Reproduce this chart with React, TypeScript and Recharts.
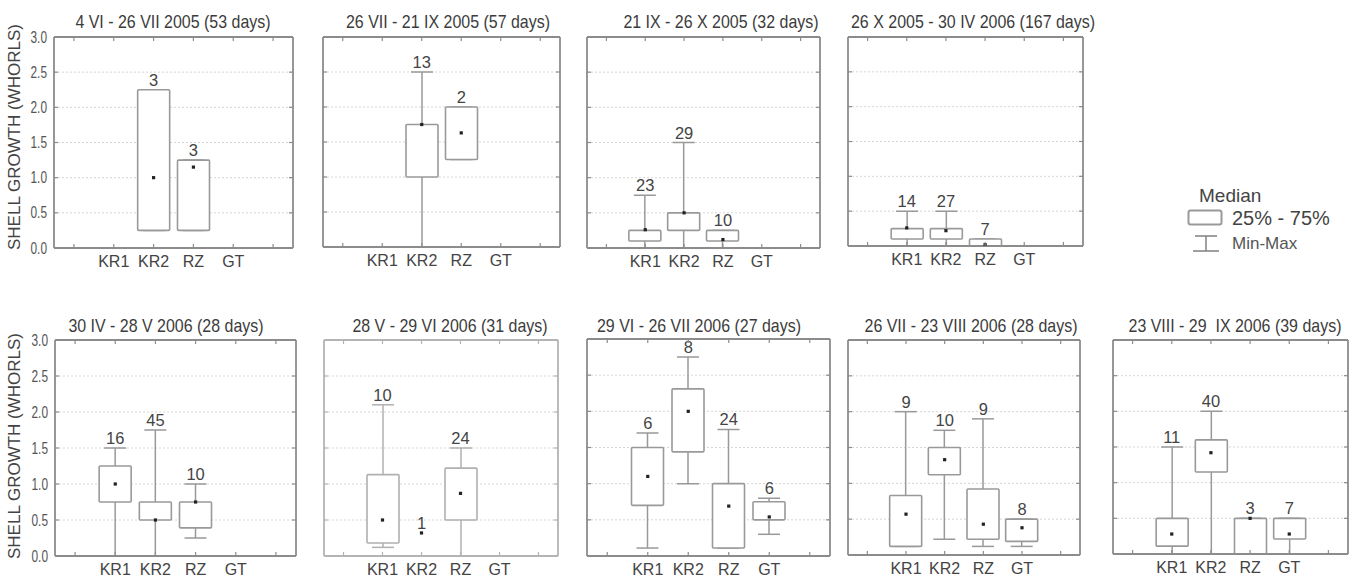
import React from 'react';
import { ComposedChart, Bar, Scatter, XAxis, YAxis, CartesianGrid } from 'recharts';

// ---------- data ----------
const categories = ['KR1', 'KR2', 'RZ', 'GT'];
const slots = ['s0', 'KR1', 'KR2', 'RZ', 'GT', 's5'];
const yTicks = [0, 0.5, 1, 1.5, 2, 2.5, 3];
const yTickLabels = ['0.0', '0.5', '1.0', '1.5', '2.0', '2.5', '3.0'];
const panelTitles = [
  '4 VI - 26 VII 2005 (53 days)',
  '26 VII - 21 IX 2005 (57 days)',
  '21 IX - 26 X 2005 (32 days)',
  '26 X 2005 - 30 IV 2006 (167 days)',
  '30 IV - 28 V 2006 (28 days)',
  '28 V - 29 VI 2006 (31 days)',
  '29 VI - 26 VII 2006 (27 days)',
  '26 VII - 23 VIII 2006 (28 days)',
  '23 VIII - 29  IX 2006 (39 days)',
];

type V = number | null;
// one row per panel, columns: KR1, KR2, RZ, GT
const minValues: V[][] = [
  [null, 0.25, 0.25, null],
  [null, 0, 1.25, null],
  [0, 0, 0, null],
  [0, 0, 0, null],
  [0, 0, 0.25, null],
  [0.12, 0.32, 0, null],
  [0.11, 1.0, 0.11, 0.3],
  [0.12, 0.22, 0.12, 0.12],
  [0, 0, 0, 0],
];
const q1Values: V[][] = [
  [null, 0.25, 0.25, null],
  [null, 1.0, 1.25, null],
  [0.1, 0.25, 0.1, null],
  [0.1, 0.1, 0, null],
  [0.75, 0.5, 0.39, null],
  [0.18, null, 0.5, null],
  [0.7, 1.44, 0.11, 0.5],
  [0.12, 1.12, 0.22, 0.19],
  [0.11, 1.15, 0, 0.21],
];
const medianValues: V[][] = [
  [null, 1.0, 1.15, null],
  [null, 1.75, 1.63, null],
  [0.26, 0.5, 0.12, null],
  [0.26, 0.22, 0.02, null],
  [1.0, 0.5, 0.75, null],
  [0.5, 0.32, 0.87, null],
  [1.1, 2.0, 0.69, 0.54],
  [0.57, 1.33, 0.43, 0.38],
  [0.28, 1.42, 0.5, 0.28],
];
const q3Values: V[][] = [
  [null, 2.25, 1.25, null],
  [null, 1.75, 2.0, null],
  [0.25, 0.5, 0.25, null],
  [0.25, 0.25, 0.1, null],
  [1.25, 0.75, 0.75, null],
  [1.13, null, 1.22, null],
  [1.5, 2.31, 1.0, 0.75],
  [0.83, 1.5, 0.92, 0.5],
  [0.5, 1.6, 0.5, 0.5],
];
const maxValues: V[][] = [
  [null, 2.25, 1.25, null],
  [null, 2.5, 2.0, null],
  [0.75, 1.5, 0.25, null],
  [0.5, 0.5, 0.1, null],
  [1.5, 1.75, 1.0, null],
  [2.1, 0.32, 1.5, null],
  [1.7, 2.75, 1.75, 0.8],
  [2.0, 1.74, 1.9, 0.5],
  [1.5, 2.0, 0.5, 0.5],
];
const countValues: V[][] = [
  [null, 3, 3, null],
  [null, 13, 2, null],
  [23, 29, 10, null],
  [14, 27, 7, null],
  [16, 45, 10, null],
  [10, 1, 24, null],
  [6, 8, 24, 6],
  [9, 10, 9, 8],
  [11, 40, 3, 7],
];

// ---------- layout ----------
const panels = [
  { L: 54, T: 37, R: 293, B: 248, tx: 173, ty: 22 },
  { L: 323, T: 37, R: 560, B: 247, tx: 448, ty: 22 },
  { L: 587, T: 37, R: 820, B: 248, tx: 721, ty: 22 },
  { L: 848, T: 37, R: 1083, B: 246, tx: 973, ty: 22 },
  { L: 55, T: 340, R: 296, B: 556, tx: 166, ty: 326 },
  { L: 324, T: 340, R: 558, B: 556, tx: 450, ty: 326 },
  { L: 587, T: 339, R: 830, B: 556, tx: 699, ty: 326 },
  { L: 848, T: 340, R: 1080, B: 555, tx: 971, ty: 326 },
  { L: 1113, T: 340, R: 1348, B: 554, tx: 1235, ty: 326 },
];
const ML = 50, MR = 5, MT = 10, MB = 30;
const SANS = "'Liberation Sans', Arial, Helvetica, sans-serif";
const TEXT = '#444';

const buildRows = (p: number) =>
  slots.map((s) => {
    const i = categories.indexOf(s);
    if (i < 0) return { cat: s, whisker: null, box: null, median: null, top: null, n: null };
    const mn = minValues[p][i];
    const mx = maxValues[p][i];
    const q1 = q1Values[p][i];
    const q3 = q3Values[p][i];
    return {
      cat: s,
      whisker: mn != null && mx != null ? [mn, mx] : null,
      box: q1 != null && q3 != null ? [q1, q3] : null,
      median: medianValues[p][i],
      top: mx,
      n: countValues[p][i],
    };
  });

function Panel({ p }: { p: number }) {
  const g = panels[p];
  const pw = g.R - g.L;
  const ph = g.B - g.T;
  const light = p === 5;
  const frame = light ? '#b4b4b4' : '#8c8c8c';
  const boxStroke = light ? '#b0b0b0' : '#999999';
  const showY = p === 0 || p === 4;
  const rows = buildRows(p);

  const BottomTick = (props: any) => {
    const { x, y, payload } = props;
    const label = categories.includes(payload.value) ? payload.value : '';
    return (
      <g>
        <line x1={x} y1={y} x2={x} y2={y - 4} stroke={frame} strokeWidth={1.2} />
        {label ? (
          <text x={x} y={y + 19} textAnchor="middle" fontSize={16} fill={TEXT} fontFamily={SANS}>
            {label}
          </text>
        ) : null}
      </g>
    );
  };
  const TopTick = (props: any) => {
    const { x, y } = props;
    return <line x1={x} y1={y} x2={x} y2={y + 4} stroke={frame} strokeWidth={1.2} />;
  };
  const LeftTick = (props: any) => {
    const { x, y, payload } = props;
    const idx = yTicks.indexOf(payload.value);
    return (
      <g>
        <line x1={x} y1={y} x2={x + 4} y2={y} stroke={frame} strokeWidth={1.2} />
        {showY ? (
          <text
            x={x - 7}
            y={y + 5.5}
            textAnchor="end"
            fontSize={16}
            fill="#555"
            fontFamily={SANS}
            textLength={16.5}
            lengthAdjust="spacingAndGlyphs"
          >
            {yTickLabels[idx]}
          </text>
        ) : null}
      </g>
    );
  };
  const RightTick = (props: any) => {
    const { x, y } = props;
    return <line x1={x} y1={y} x2={x - 4} y2={y} stroke={frame} strokeWidth={1.2} />;
  };

  const Whisker = (props: any) => {
    const { x, y, width, height } = props;
    if (x == null || y == null || height == null) return <g />;
    const top = Math.min(y, y + height);
    const bot = Math.max(y, y + height);
    if (bot - top < 0.5) return <g />;
    const cx = x + width / 2;
    const half = 11;
    return (
      <g stroke={boxStroke} strokeWidth={1.5}>
        <line x1={cx} y1={top} x2={cx} y2={bot} />
        <line x1={cx - half} y1={top} x2={cx + half} y2={top} />
        <line x1={cx - half} y1={bot} x2={cx + half} y2={bot} />
      </g>
    );
  };
  const BoxShape = (props: any) => {
    const { x, y, width, height } = props;
    if (x == null || y == null || height == null) return <g />;
    const top = Math.min(y, y + height);
    const h = Math.abs(height);
    return <rect x={x} y={top} width={width} height={h} fill="#ffffff" stroke={boxStroke} strokeWidth={1.6} rx={1} />;
  };
  const MedianDot = (props: any) => {
    const { cx, cy, payload } = props;
    if (!payload || payload.median == null || cx == null || cy == null || isNaN(cy)) return <g />;
    return <rect x={cx - 1.6} y={cy - 1.6} width={3.2} height={3.2} fill="#222" />;
  };
  const CountLabel = (props: any) => {
    const { cx, cy, payload } = props;
    if (!payload || payload.n == null || cx == null || cy == null || isNaN(cy)) return <g />;
    return (
      <text x={cx} y={cy - 4} textAnchor="middle" fontSize={16.5} fill={TEXT} fontFamily={SANS}>
        {String(payload.n)}
      </text>
    );
  };

  return (
    <div style={{ position: 'absolute', left: g.L - ML, top: g.T - MT }}>
      <ComposedChart
        width={pw + ML + MR}
        height={ph + MT + MB}
        data={rows}
        margin={{ top: MT - 1, right: MR - 1, bottom: MB - 1, left: ML - 1 }}
      >
        <CartesianGrid
          xAxisId="w"
          yAxisId="l"
          vertical={false}
          stroke="#d6d6d6"
          strokeDasharray="2 2"
        />
        <XAxis
          xAxisId="w"
          dataKey="cat"
          type="category"
          orientation="bottom"
          height={1}
          interval={0}
          tickSize={0}
          tickMargin={0}
          tickLine={false}
          axisLine={{ stroke: frame, strokeWidth: 1.8 }}
          tick={BottomTick}
        />
        <XAxis
          xAxisId="b"
          dataKey="cat"
          type="category"
          orientation="top"
          height={1}
          interval={0}
          tickSize={0}
          tickMargin={0}
          tickLine={false}
          axisLine={{ stroke: frame, strokeWidth: 1.8 }}
          tick={TopTick}
        />
        <YAxis
          yAxisId="l"
          type="number"
          orientation="left"
          domain={[0, 3]}
          ticks={yTicks}
          interval={0}
          allowDataOverflow
          width={1}
          tickSize={0}
          tickMargin={0}
          tickLine={false}
          axisLine={{ stroke: frame, strokeWidth: 1.8 }}
          tick={LeftTick}
        />
        <YAxis
          yAxisId="r"
          type="number"
          orientation="right"
          domain={[0, 3]}
          ticks={yTicks}
          interval={0}
          allowDataOverflow
          width={1}
          tickSize={0}
          tickMargin={0}
          tickLine={false}
          axisLine={{ stroke: frame, strokeWidth: 1.8 }}
          tick={RightTick}
        />
        <Bar xAxisId="w" yAxisId="l" dataKey="whisker" barSize={22} shape={Whisker} isAnimationActive={false} />
        <Bar xAxisId="b" yAxisId="r" dataKey="box" barSize={32} shape={BoxShape} isAnimationActive={false} />
        <Scatter xAxisId="w" yAxisId="l" dataKey="median" shape={MedianDot} isAnimationActive={false} />
        <Scatter xAxisId="w" yAxisId="l" dataKey="top" shape={CountLabel} isAnimationActive={false} />
      </ComposedChart>
    </div>
  );
}

function Title({ p }: { p: number }) {
  const g = panels[p];
  return (
    <div
      style={{
        position: 'absolute',
        left: g.tx - 160,
        top: g.ty - 12,
        width: 320,
        height: 24,
        lineHeight: '24px',
        textAlign: 'center',
        fontFamily: SANS,
        fontSize: 19,
        color: '#3c3c3c',
        whiteSpace: 'pre',
        transform: 'scaleX(0.84)',
        transformOrigin: '50% 50%',
      }}
    >
      {panelTitles[p]}
    </div>
  );
}

function YLabel({ cy }: { cy: number }) {
  return (
    <div
      style={{
        position: 'absolute',
        left: 15 - 140,
        top: cy - 11,
        width: 280,
        height: 22,
        lineHeight: '22px',
        textAlign: 'center',
        transform: 'rotate(-90deg)',
        fontFamily: SANS,
        fontSize: 17,
        color: TEXT,
      }}
    >
      SHELL GROWTH (WHORLS)
    </div>
  );
}

function LegendBox() {
  return (
    <svg
      width={180}
      height={80}
      style={{ position: 'absolute', left: 1174, top: 182 }}
    >
      <text x={25} y={20} fontSize={19} fill={TEXT} fontFamily={SANS}>Median</text>
      <rect x={14.5} y={28.5} width={33} height={14} rx={2} fill="#fff" stroke="#999" strokeWidth={2} />
      <text x={58} y={43} fontSize={20} fill={TEXT} fontFamily={SANS}>25% - 75%</text>
      <g stroke="#888" strokeWidth={1.6}>
        <line x1={21} y1={54} x2={43} y2={54} />
        <line x1={32} y1={54} x2={32} y2={69} />
        <line x1={19} y1={69} x2={45} y2={69} />
      </g>
      <text x={58} y={67} fontSize={17} fill="#555" fontFamily={SANS}>Min-Max</text>
    </svg>
  );
}

export default function App() {
  return (
    <div
      style={{
        position: 'absolute',
        left: 0,
        top: 0,
        width: 1354,
        height: 581,
        background: '#ffffff',
        overflow: 'hidden',
      }}
    >
      {panels.map((_, p) => (
        <Panel key={'panel' + p} p={p} />
      ))}
      {panels.map((_, p) => (
        <Title key={'title' + p} p={p} />
      ))}
      <YLabel cy={137} />
      <YLabel cy={446} />
      <LegendBox />
    </div>
  );
}
